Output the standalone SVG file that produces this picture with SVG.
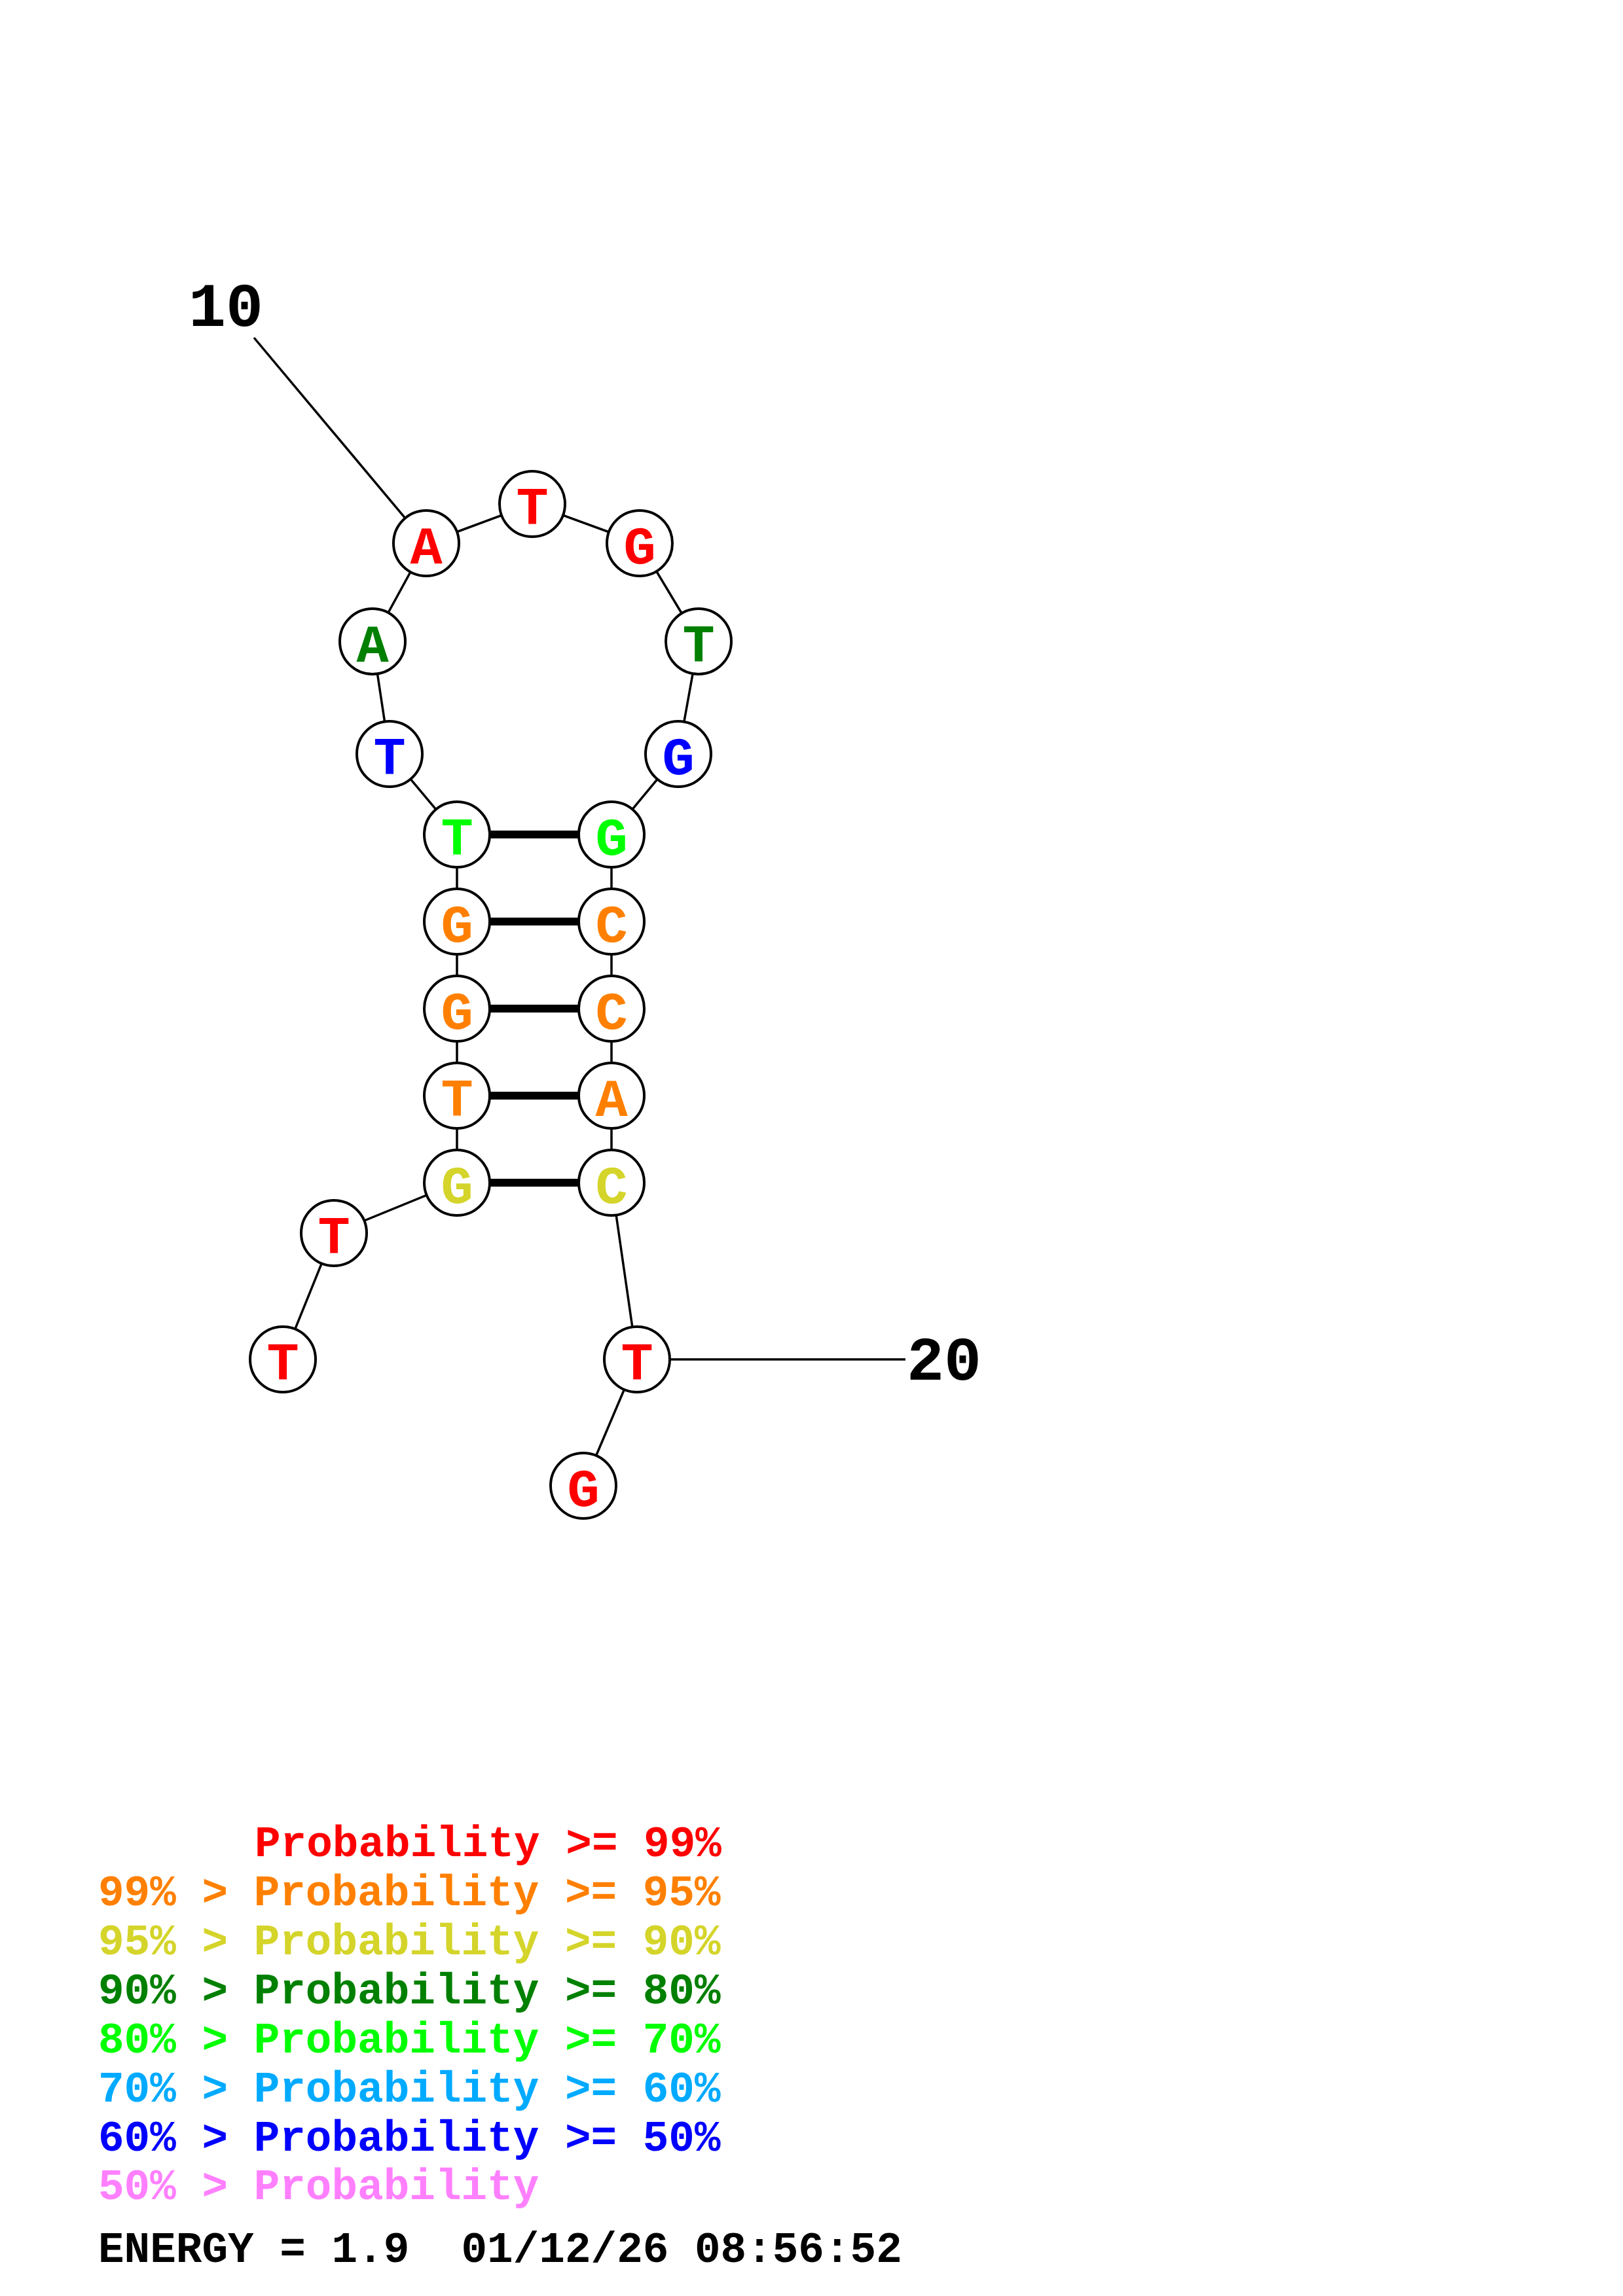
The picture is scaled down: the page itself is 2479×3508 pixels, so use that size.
<svg xmlns="http://www.w3.org/2000/svg" width="2479" height="3508" viewBox="0 0 2479 3508">
<style>
.bb{stroke:#000;stroke-width:3.5;fill:none}
.bp{stroke:#000;stroke-width:12;fill:none}
.nc{fill:#fff;stroke:#000;stroke-width:4}
.nt{font-family:"Liberation Mono",monospace;font-weight:bold;font-size:82px;text-anchor:middle}
.lb{font-family:"Liberation Mono",monospace;font-weight:bold;font-size:95px;fill:#000;text-anchor:middle}
.lg{font-family:"Liberation Mono",monospace;font-weight:bold;font-size:66px}
.r{fill:#FF0000}.o{fill:#FF8000}.y{fill:#D4D42A}.dg{fill:#008000}.g{fill:#00FF00}.s{fill:#00AAFF}.b{fill:#0000FF}.p{fill:#FF80FF}.k{fill:#000}
</style>
<rect width="2479" height="3508" fill="#fff"/>
<g id="connectors">
<line class="bb" x1="388" y1="516" x2="651" y2="830"/>
<line class="bb" x1="973" y1="2077" x2="1383" y2="2077"/>
<polyline class="bb" points="432,2077 510,1884 698,1807 698,1674 698,1541 698,1408 698,1275 595,1152 569,980 651,830 813,770 977,830 1067,980 1036,1152 934,1275 934,1408 934,1541 934,1674 934,1807 973,2077 891,2270"/>
<line class="bp" x1="698" y1="1275" x2="934" y2="1275"/>
<line class="bp" x1="698" y1="1408" x2="934" y2="1408"/>
<line class="bp" x1="698" y1="1541" x2="934" y2="1541"/>
<line class="bp" x1="698" y1="1674" x2="934" y2="1674"/>
<line class="bp" x1="698" y1="1807" x2="934" y2="1807"/>
</g>
<g id="n1"><circle class="nc" cx="432" cy="2077" r="50"/><text class="nt r" x="432" y="2108">T</text></g>
<g id="n2"><circle class="nc" cx="510" cy="1884" r="50"/><text class="nt r" x="510" y="1915">T</text></g>
<g id="n3"><circle class="nc" cx="698" cy="1807" r="50"/><text class="nt y" x="698" y="1838">G</text></g>
<g id="n4"><circle class="nc" cx="698" cy="1674" r="50"/><text class="nt o" x="698" y="1705">T</text></g>
<g id="n5"><circle class="nc" cx="698" cy="1541" r="50"/><text class="nt o" x="698" y="1572">G</text></g>
<g id="n6"><circle class="nc" cx="698" cy="1408" r="50"/><text class="nt o" x="698" y="1439">G</text></g>
<g id="n7"><circle class="nc" cx="698" cy="1275" r="50"/><text class="nt g" x="698" y="1306">T</text></g>
<g id="n8"><circle class="nc" cx="595" cy="1152" r="50"/><text class="nt b" x="595" y="1183">T</text></g>
<g id="n9"><circle class="nc" cx="569" cy="980" r="50"/><text class="nt dg" x="569" y="1011">A</text></g>
<g id="n10"><circle class="nc" cx="651" cy="830" r="50"/><text class="nt r" x="651" y="861">A</text></g>
<g id="n11"><circle class="nc" cx="813" cy="770" r="50"/><text class="nt r" x="813" y="801">T</text></g>
<g id="n12"><circle class="nc" cx="977" cy="830" r="50"/><text class="nt r" x="977" y="861">G</text></g>
<g id="n13"><circle class="nc" cx="1067" cy="980" r="50"/><text class="nt dg" x="1067" y="1011">T</text></g>
<g id="n14"><circle class="nc" cx="1036" cy="1152" r="50"/><text class="nt b" x="1036" y="1183">G</text></g>
<g id="n15"><circle class="nc" cx="934" cy="1275" r="50"/><text class="nt g" x="934" y="1306">G</text></g>
<g id="n16"><circle class="nc" cx="934" cy="1408" r="50"/><text class="nt o" x="934" y="1439">C</text></g>
<g id="n17"><circle class="nc" cx="934" cy="1541" r="50"/><text class="nt o" x="934" y="1572">C</text></g>
<g id="n18"><circle class="nc" cx="934" cy="1674" r="50"/><text class="nt o" x="934" y="1705">A</text></g>
<g id="n19"><circle class="nc" cx="934" cy="1807" r="50"/><text class="nt y" x="934" y="1838">C</text></g>
<g id="n20"><circle class="nc" cx="973" cy="2077" r="50"/><text class="nt r" x="973" y="2108">T</text></g>
<g id="n21"><circle class="nc" cx="891" cy="2270" r="50"/><text class="nt r" x="891" y="2301">G</text></g>
<g id="labels">
<text class="lb" x="345" y="498">10</text>
<text class="lb" x="1442" y="2108">20</text>
</g>
<g id="legend">
<text class="lg r" x="389" y="2836">Probability &gt;= 99%</text>
<text class="lg o" x="150" y="2911">99% &gt; Probability &gt;= 95%</text>
<text class="lg y" x="150" y="2986">95% &gt; Probability &gt;= 90%</text>
<text class="lg dg" x="150" y="3061">90% &gt; Probability &gt;= 80%</text>
<text class="lg g" x="150" y="3136">80% &gt; Probability &gt;= 70%</text>
<text class="lg s" x="150" y="3211">70% &gt; Probability &gt;= 60%</text>
<text class="lg b" x="150" y="3286">60% &gt; Probability &gt;= 50%</text>
<text class="lg p" x="150" y="3360">50% &gt; Probability</text>
<text class="lg k" x="150" y="3456" xml:space="preserve">ENERGY = 1.9  01/12/26 08:56:52</text>
</g>
</svg>
